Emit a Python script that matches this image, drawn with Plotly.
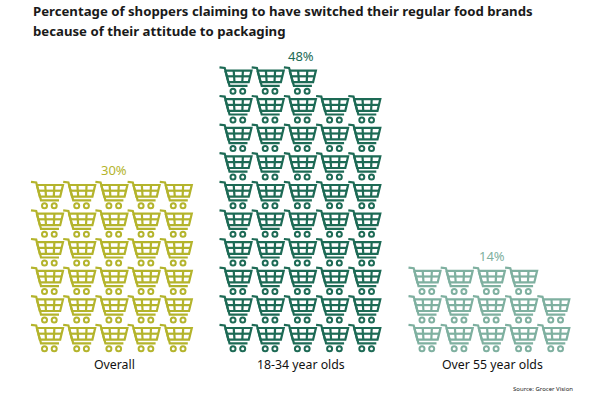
import plotly.graph_objects as go

categories = ["Overall", "18-34 year olds", "Over 55 year olds"]
percent = [30, 48, 14]
colours = ["#b4b42c", "#1d6a55", "#7fb0a0"]
title_lines = ["Percentage of shoppers claiming to have switched their regular food brands",
               "because of their attitude to packaging"]
source = "Source: Grocer Vision"

GROUP_LEFT = [31, 219.5, 408.5]
LABEL_X = [114, 301, 492]
PER_ROW = 5
PITCH_X, PITCH_Y = 32.2, 28.6
BOTTOM_TOP = 324

# one cart drawn in its own little box (px from top-left)
GLYPH = [
    [(0, 0.8), (5.2, 1.4), (10, 19.3), (28, 19.3)],
    [(5.8, 4), (32, 4), (29.2, 15.6), (8.8, 15.6), (5.8, 4)],
    [(7.3, 9.7), (30.7, 9.7)],
    [(14.2, 4), (15, 15.6)],
    [(23.4, 4), (22.8, 15.6)],
]
WHEELS = [(13.5, 24.7), (23.2, 24.7)]

fig = go.Figure()
for i, (pct, left, col) in enumerate(zip(percent, GROUP_LEFT, colours)):
    rows_full, extra = divmod(pct, PER_ROW)
    slots = [(r, c) for r in range(rows_full) for c in range(PER_ROW)]
    slots += [(rows_full, c) for c in range(extra)]
    xs, ys, wx, wy = [], [], [], []
    for r, c in slots:
        ox, oy = left + c * PITCH_X, BOTTOM_TOP - r * PITCH_Y
        for part in GLYPH:
            xs += [ox + p[0] for p in part] + [None]
            ys += [oy + p[1] for p in part] + [None]
        for w in WHEELS:
            wx.append(ox + w[0])
            wy.append(oy + w[1])
    fig.add_trace(go.Scatter(x=xs, y=ys, mode="lines", hoverinfo="skip",
                             line=dict(color=col, width=2.2)))
    fig.add_trace(go.Scatter(x=wx, y=wy, mode="markers", hoverinfo="skip",
                             marker=dict(symbol="circle-open", size=5, color=col,
                                         line=dict(color=col, width=2))))
    top_row = (pct - 1) // PER_ROW
    fig.add_annotation(x=LABEL_X[i], y=BOTTOM_TOP - top_row * PITCH_Y - 11, text=f"{pct}%",
                       showarrow=False, font=dict(size=13, color=col))

for cat, x in zip(categories, LABEL_X):
    fig.add_annotation(x=x, y=364, text=cat, showarrow=False,
                       font=dict(size=12.3, color="#111111"))

for line, y in zip(title_lines, [11, 31]):
    fig.add_annotation(x=31, y=y, text=f"<b>{line}</b>", showarrow=False, xanchor="left",
                       font=dict(size=13.2, color="#1a1a1a"))
fig.add_annotation(x=575, y=389, text=source, showarrow=False, xanchor="right",
                   font=dict(size=6, color="#222222"))

fig.update_layout(
    width=597, height=403, margin=dict(l=0, r=0, t=0, b=0),
    paper_bgcolor="white", plot_bgcolor="white", showlegend=False,
    font=dict(family="Noto Sans"),
    xaxis=dict(range=[0, 597], visible=False),
    yaxis=dict(range=[403, 0], visible=False),
)
fig.write_html("out.html", config=dict(displayModeBar=False),
               post_script="document.body.style.margin='0';")
